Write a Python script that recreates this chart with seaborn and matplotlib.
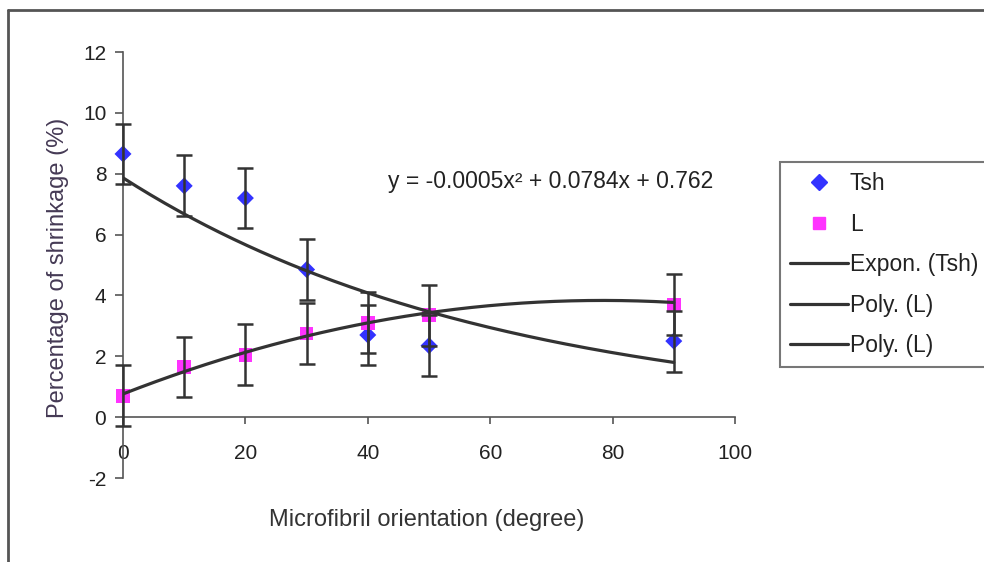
import numpy as np
import pandas as pd
import matplotlib.pyplot as plt
import seaborn as sns
from matplotlib.lines import Line2D

# data
orientation = [0, 10, 20, 30, 40, 50, 90]
tsh = [8.65, 7.6, 7.2, 4.85, 2.7, 2.35, 2.5]
l_shrink = [0.7, 1.65, 2.05, 2.75, 3.1, 3.35, 3.7]
tsh_err = [1, 1, 1, 1, 1, 1, 1]
l_err = [1, 1, 1, 1, 1, 1, 1]
poly_coef = [-0.0005, 0.0784, 0.762]   # from the equation printed on the chart
x_ticks = [0, 20, 40, 60, 80, 100]
y_ticks = [-2, 0, 2, 4, 6, 8, 10, 12]
legend_labels = ["Tsh", "L", "Expon. (Tsh)", "Poly. (L)", "Poly. (L)"]
equation = "y = -0.0005x\u00b2 + 0.0784x + 0.762"

sns.set_style("white")
plt.rcParams['font.family'] = ['Liberation Sans', 'DejaVu Sans']
plt.rcParams['axes.unicode_minus'] = False

blue = "#3333ff"
pink = "#ff33ff"
dark = "#333333"

df = pd.DataFrame({"x": orientation, "Tsh": tsh, "L": l_shrink})

fig = plt.figure(figsize=(9.84, 5.62), dpi=100)
ax = fig.add_axes([123 / 984, 84 / 562, 612 / 984, 426 / 562])

# points
sns.scatterplot(data=df, x="x", y="Tsh", marker="D", s=75, color=blue,
                edgecolor="none", ax=ax, zorder=2, clip_on=False)
sns.scatterplot(data=df, x="x", y="L", marker="s", s=95, color=pink,
                edgecolor="none", ax=ax, zorder=2, clip_on=False)

# error bars
for yv, ev in [(tsh, tsh_err), (l_shrink, l_err)]:
    eb = ax.errorbar(orientation, yv, yerr=ev, fmt="none", ecolor=dark,
                     elinewidth=1.8, capsize=6, capthick=1.8, zorder=3)
    for art in eb.get_children():
        art.set_clip_on(False)

# trend lines
xs = np.linspace(0, 90, 200)
b, ln_a = np.polyfit(orientation, np.log(tsh), 1)
expon = np.exp(ln_a) * np.exp(b * xs)
poly = np.polyval(poly_coef, xs)
sns.lineplot(x=xs, y=expon, color=dark, linewidth=2.3, ax=ax, zorder=4)
sns.lineplot(x=xs, y=poly, color=dark, linewidth=2.3, ax=ax, zorder=4)

ax.text(43.3, 7.75, equation, fontsize=16.5, color="#222222", va="center", ha="left")

# axes styling
ax.set_xlim(0, 100)
ax.set_ylim(-2, 12)
ax.set_xticks(x_ticks)
ax.set_yticks(y_ticks)
ax.spines['right'].set_visible(False)
ax.spines['top'].set_visible(False)
ax.spines['bottom'].set_position(('data', 0))
for s in ['left', 'bottom']:
    ax.spines[s].set_color("#555555")
    ax.spines[s].set_linewidth(1.2)
ax.tick_params(axis='y', direction='out', length=6, width=1.2, color="#555555",
               labelsize=15, labelcolor="#222222", pad=6, left=True)
ax.tick_params(axis='x', direction='out', length=5, width=1.2, color="#555555",
               labelsize=15, labelcolor="#222222", pad=14, bottom=True)
ax.set_xlabel("")
ax.set_ylabel("")

fig.text(427 / 984, 1 - 520 / 562, "Microfibril orientation (degree)",
         fontsize=17, color="#333333", ha="center", va="center")
fig.text(58 / 984, 1 - 268 / 562, "Percentage of shrinkage (%)",
         fontsize=17, color="#453a55", ha="center", va="center", rotation=90)

# legend
handles = [
    Line2D([], [], marker="D", color=blue, linestyle="none", markersize=8),
    Line2D([], [], marker="s", color=pink, linestyle="none", markersize=9),
    Line2D([], [], color=dark, linewidth=2.3),
    Line2D([], [], color=dark, linewidth=2.3),
    Line2D([], [], color=dark, linewidth=2.3),
]
leg = fig.legend(handles, legend_labels, loc="upper left",
                 bbox_to_anchor=(780 / 984, 1 - 162 / 562), fontsize=16.5,
                 frameon=True, fancybox=False, handlelength=2.5,
                 handletextpad=0.1, labelspacing=0.76, borderpad=0.45,
                 borderaxespad=0)
leg.get_frame().set_edgecolor("#555555")
leg.get_frame().set_linewidth(1.5)
for t in leg.get_texts():
    t.set_color("#222222")

# outer chart border (top and left visible in the crop)
fig.add_artist(Line2D([8 / 984, 1], [1 - 10 / 562, 1 - 10 / 562],
                      transform=fig.transFigure, color="#555555", linewidth=2))
fig.add_artist(Line2D([8 / 984, 8 / 984], [0, 1 - 10 / 562],
                      transform=fig.transFigure, color="#555555", linewidth=2))

fig.savefig("out.png", dpi=100)
